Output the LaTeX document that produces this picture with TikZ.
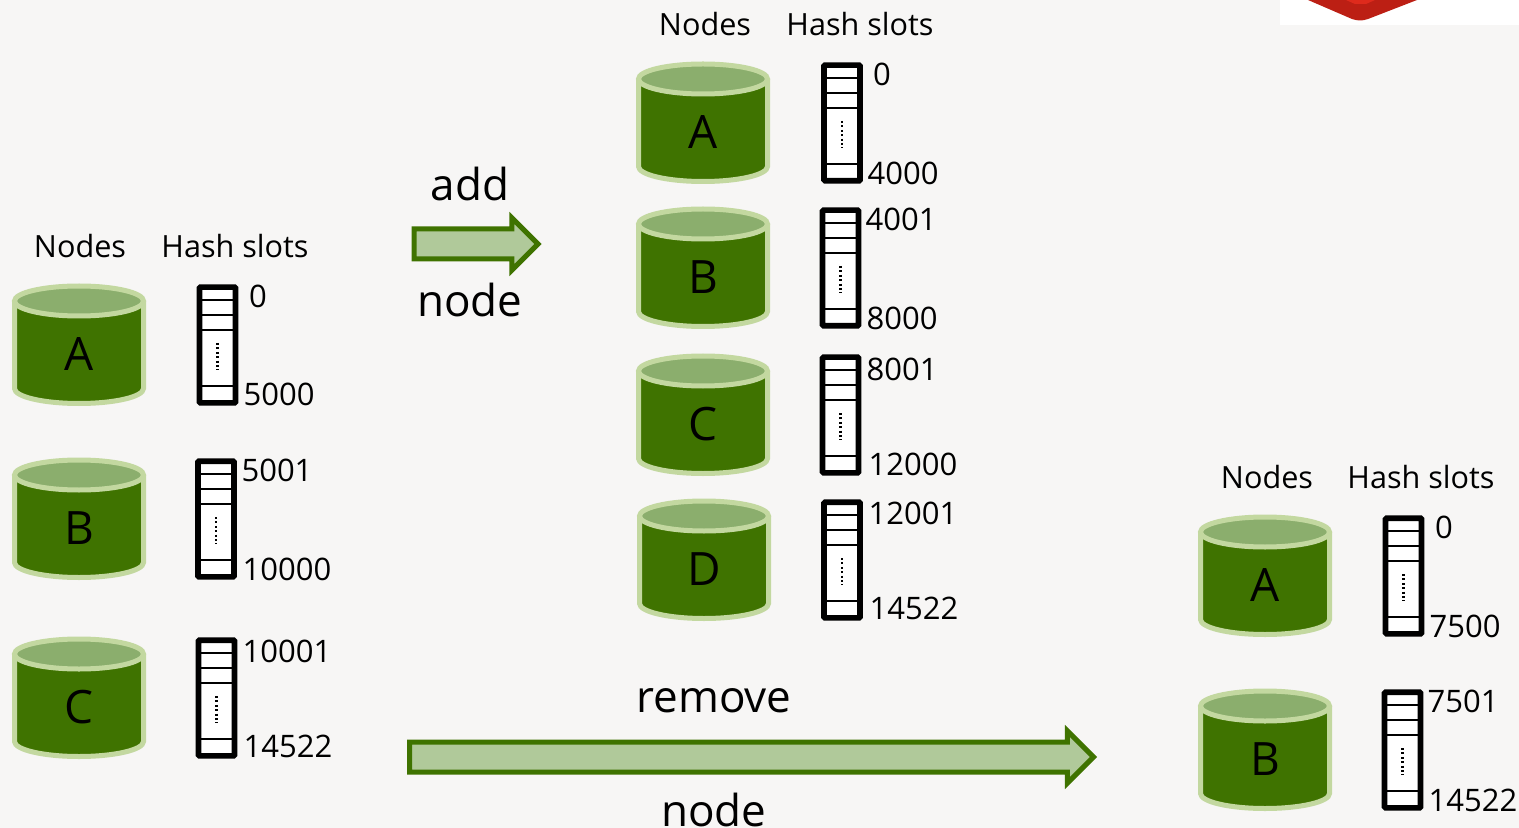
\documentclass[tikz,border=0pt]{standalone}
\usepackage{fontspec}
\setmainfont{Open Sans}
\usetikzlibrary{shapes.arrows}
\definecolor{dbgreen}{HTML}{3F7300}
\definecolor{dbrim}{HTML}{C3D8A0}
\definecolor{dbtop}{HTML}{8BAE6D}
\definecolor{arrowfill}{HTML}{B0C99A}
\definecolor{pagebg}{HTML}{F7F6F5}
\definecolor{logored}{HTML}{BC1F14}
\definecolor{logolight}{HTML}{DE2A1C}
\tikzset{
  title/.style={font=\fontsize{15.3}{17}\selectfont, inner sep=0pt},
  slotnum/.style={font=\fontsize{15.5}{18}\selectfont, inner sep=0pt},
  biglabel/.style={font=\fontsize{22}{26}\selectfont, inner sep=0pt},
  dbletter/.style={font=\fontsize{23}{26}\selectfont, inner sep=0pt},
  dbbody/.style={draw=dbrim, fill=dbgreen, line width=2.5pt},
  dbend/.style={draw=dbrim, fill=dbtop, line width=2.5pt},
  slotbox/.style={draw=black, line width=2.8pt, fill=white, rounded corners=0.5pt,
    minimum width=18pt, minimum height=57.8pt, inner sep=0pt},
  slotline/.style={line width=0.8pt},
  movearrow/.style={
    single arrow, draw=dbgreen, fill=arrowfill, line width=2.5pt, inner sep=0pt,
    inner ysep=6.25pt, minimum width=0pt, single arrow head extend=5.6pt, single arrow tip angle=90
  }
}
\newcommand\DbNode[4]{
  \begin{scope}[shift={(#2,#3)}]
    \draw[dbbody] (-64.5,-44) -- (-64.5,43.5) arc (180:0:64.5 and 15) -- (64.5,-44);
    \draw[dbend] (0,-44) ellipse (64.5 and 15);
  \end{scope}
  \node[dbletter] (#1) at (#2,#3+9) {#4};
}
\newcommand\SlotBar[3]{
  \node[slotbox] (#1) at (#2,#3) {};
  \begin{scope}[shift={(#2,#3)}]
    \draw[slotline] (-19,-45) -- (19,-45) (-19,-30) -- (19,-30) (-19,-15) -- (19,-15) (-19,41) -- (19,41);
    \draw[line width=1.1pt, dash pattern=on 1pt off 1.2pt] (0,-2) -- (0,25);
  \end{scope}
}
\begin{document}
\begin{tikzpicture}[x=0.5pt, y=-0.5pt]
\useasboundingbox (0,0) rectangle (1519,828);
\fill[pagebg] (0,0) rectangle (1519,828);
% logo corner
\fill[white] (1280,0) rectangle (1519,25);
\fill[logored] (1308,0) -- (1352,19) .. controls (1358,21) and (1362,21) .. (1368,19) -- (1417,0) -- cycle;
\fill[logolight] (1346,0) -- (1355,4) -- (1366,4) -- (1375,0) -- cycle;

% left group
\node[title] (leftnodes) at (80,246) {Nodes};
\node[title] (lefthash) at (235,246) {Hash slots};
\DbNode{dbA}{79}{345}{A}
\DbNode{dbB}{79}{519}{B}
\DbNode{dbC}{79}{698}{C}
\SlotBar{slotA}{217.5}{345}
\SlotBar{slotB}{216}{519}
\SlotBar{slotC}{216.5}{698}
\node[slotnum] (numa) at (258,296) {0};
\node[slotnum] (numb) at (279,394) {5000};
\node[slotnum] (numc) at (277,470) {5001};
\node[slotnum] (numd) at (287,569) {10000};
\node[slotnum] (nume) at (287,651) {10001};
\node[slotnum] (numf) at (288,746) {14522};

% add node
\node[biglabel] (addtop) at (470,184) {add};
\node[movearrow, minimum height=62pt] (addarrow) at (468.5,244) {};
\node[biglabel] (addbot) at (470,300) {node};

% middle group
\node[title] (midnodes) at (705,24) {Nodes};
\node[title] (midhash) at (860,24) {Hash slots};
\DbNode{midA}{703}{123}{A}
\DbNode{midB}{703}{268}{B}
\DbNode{midC}{703}{415}{C}
\DbNode{midD}{704}{560}{D}
\SlotBar{mslotA}{842}{123}
\SlotBar{mslotB}{840.5}{268}
\SlotBar{mslotC}{840.5}{415}
\SlotBar{mslotD}{842}{560}
\node[slotnum] (mnuma) at (882,74) {0};
\node[slotnum] (mnumb) at (903,173) {4000};
\node[slotnum] (mnumc) at (901,219) {4001};
\node[slotnum] (mnumd) at (902,318) {8000};
\node[slotnum] (mnume) at (902,369) {8001};
\node[slotnum] (mnumf) at (913,464) {12000};
\node[slotnum] (mnumg) at (913,513) {12001};
\node[slotnum] (mnumh) at (914,608) {14522};

% remove node
\node[biglabel] (remtop) at (714,701) {remove};
\node[movearrow, minimum height=342pt] (remarrow) at (744,757) {};
\node[biglabel] (rembot) at (714,810) {node};

% right group
\node[title] (rightnodes) at (1267,477) {Nodes};
\node[title] (righthash) at (1421,477) {Hash slots};
\DbNode{rightA}{1265}{576}{A}
\DbNode{rightB}{1265}{750}{B}
\SlotBar{rslotA}{1403.5}{576}
\SlotBar{rslotB}{1402.5}{750}
\node[slotnum] (rnuma) at (1444,527) {0};
\node[slotnum] (rnumb) at (1465,626) {7500};
\node[slotnum] (rnumc) at (1463,701) {7501};
\node[slotnum] (rnumd) at (1473,800) {14522};
\end{tikzpicture}
\end{document}
